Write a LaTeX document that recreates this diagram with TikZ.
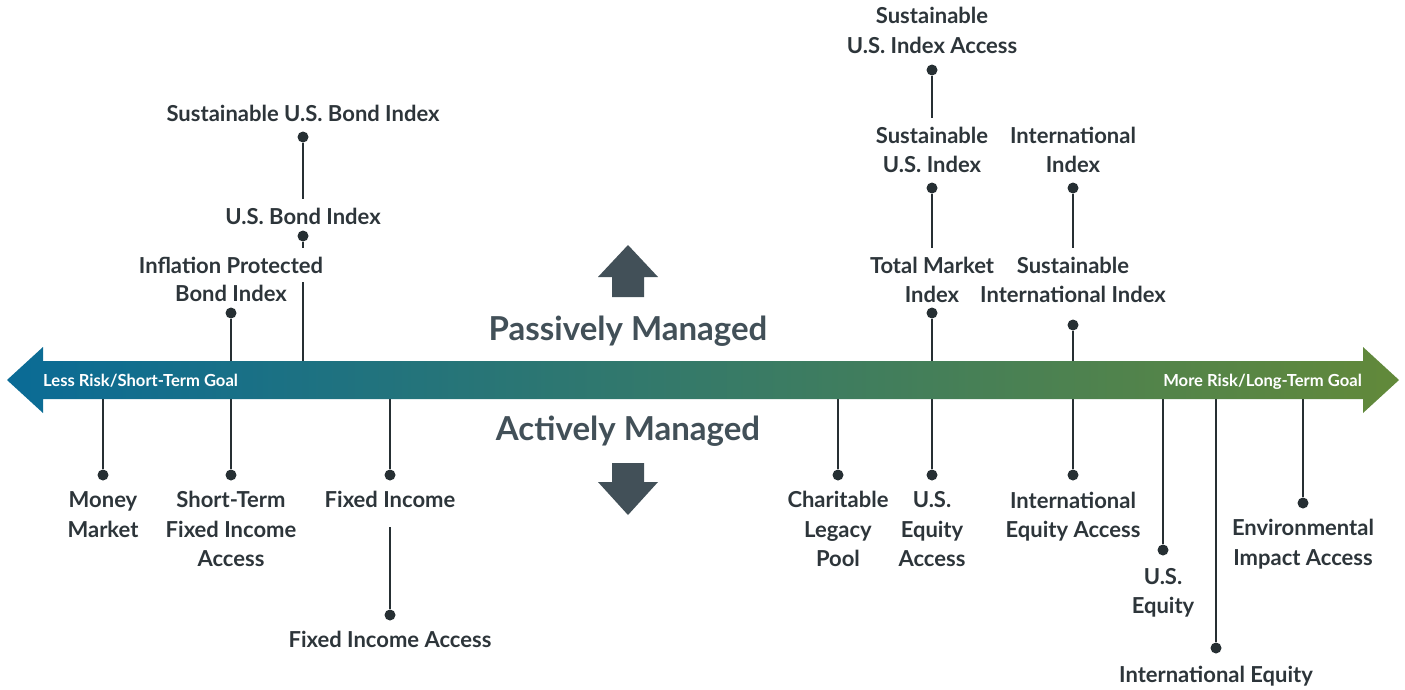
\documentclass[tikz,border=0pt]{standalone}
\usepackage{fontspec}
\setmainfont{Lato}
\definecolor{stemgray}{RGB}{38,47,51}
\definecolor{textgray}{RGB}{45,53,58}
\definecolor{slategray}{RGB}{66,80,88}
\definecolor{riskblue}{RGB}{10,107,150}
\definecolor{riskteal}{RGB}{58,118,110}
\definecolor{riskgreen}{RGB}{98,137,58}
\tikzset{
	fund/.style={font=\bfseries\fontsize{22}{29.5}\selectfont,text=textgray,align=center,inner sep=0pt,outer ysep=9pt},
	pin/.style={circle,fill=stemgray,inner sep=0pt,minimum size=11pt},
	stem/.style={line width=2.8pt,draw=stemgray},
	bartext/.style={font=\bfseries\fontsize{16.6}{19}\selectfont,text=white,inner sep=0pt},
	heading/.style={font=\bfseries\fontsize{33}{38}\selectfont,text=slategray,inner sep=0pt}
}
\begin{document}
\begin{tikzpicture}[x=1pt,y=-1pt]
	\useasboundingbox (0,0) rectangle (1405,689);
	\coordinate (bartop) at (0,361);
	\coordinate (barbot) at (0,399);
	% passively managed (above the bar)
	\node[fund,anchor=base] (sbond) at (303,121.5) {Sustainable U.S. Bond Index};
	\node[fund,anchor=base] (usbond) at (303,224) {U.S. Bond Index};
	\node[fund,anchor=base] (infl) at (231,273.3) {Inflation Protected};
	\node[fund,anchor=base] (inflb) at (231,301.7) {Bond Index};
	\node[fund] (susacc) at (932,30.5) {Sustainable\\U.S. Index Access};
	\node[fund] (susidx) at (932,150) {Sustainable\\U.S. Index};
	\node[fund] (intidx) at (1073,150) {International\\Index};
	\node[fund] (totmkt) at (932,280) {Total Market\\Index};
	\node[fund] (susint) at (1073,280) {Sustainable\\International Index};
	\node[pin] (sbondpin) at (303,137) {};
	\node[pin] (usbondpin) at (303,236) {};
	\node[pin] (inflpin) at (231,313) {};
	\node[pin] (susaccpin) at (932,70) {};
	\node[pin] (susidxpin) at (932,188) {};
	\node[pin] (intidxpin) at (1073,188) {};
	\node[pin] (totmktpin) at (932,313) {};
	\node[pin] (susintpin) at (1073,325) {};
	\draw[stem] (sbondpin) -- (sbondpin |- usbond.north);
	\draw[stem] (usbondpin) -- (usbondpin |- infl.north);
	\draw[stem] (usbondpin |- infl.south) -- (usbondpin |- bartop);
	\draw[stem] (inflpin) -- (inflpin |- bartop);
	\draw[stem] (susaccpin) -- (susaccpin |- susidx.north);
	\draw[stem] (susidxpin) -- (susidxpin |- totmkt.north);
	\draw[stem] (intidxpin) -- (intidxpin |- susint.north);
	\draw[stem] (totmktpin) -- (totmktpin |- bartop);
	\draw[stem] (susintpin) -- (susintpin |- bartop);
	% actively managed (below the bar)
	\node[fund] (money) at (103,514.5) {Money\\Market};
	\node[fund] (stfix) at (231,529) {Short-Term\\Fixed Income\\Access};
	\node[fund,anchor=base] (fixinc) at (390,507) {Fixed Income};
	\node[fund,anchor=base] (fixacc) at (390,647.5) {Fixed Income Access};
	\node[fund] (legacy) at (838,529) {Charitable\\Legacy\\Pool};
	\node[fund] (useqacc) at (932,529.5) {U.S.\\Equity\\Access};
	\node[fund] (inteqacc) at (1073,516.5) {International\\Equity Access};
	\node[fund] (useq) at (1163,593) {U.S.\\Equity};
	\node[fund,anchor=base] (inteq) at (1216,682) {International Equity};
	\node[fund] (envimp) at (1303,544) {Environmental\\Impact Access};
	\node[pin] (moneypin) at (103,475) {};
	\node[pin] (stfixpin) at (231,475) {};
	\node[pin] (fixincpin) at (390,475) {};
	\node[pin] (fixaccpin) at (390,615) {};
	\node[pin] (legacypin) at (838,475) {};
	\node[pin] (useqaccpin) at (932,475) {};
	\node[pin] (inteqaccpin) at (1073,475) {};
	\node[pin] (useqpin) at (1163,550) {};
	\node[pin] (inteqpin) at (1216,648) {};
	\node[pin] (envimppin) at (1303,503) {};
	\foreach \p in {moneypin,stfixpin,fixincpin,legacypin,useqaccpin,inteqaccpin,useqpin,inteqpin,envimppin}
		\draw[stem] (\p) -- (\p |- barbot);
	\draw[stem,shorten >=11pt] (fixaccpin) -- (fixaccpin |- fixinc.south);
	% risk bar
	\shade[left color=riskblue,middle color=riskteal,right color=riskgreen]
		(7,380) -- (43,347) -- (43,361) -- (1363,361) -- (1363,347) -- (1399,380)
		-- (1363,413) -- (1363,399) -- (43,399) -- (43,413) -- cycle;
	\node[bartext,anchor=base west] (less) at (43,386) {Less Risk/Short-Term Goal};
	\node[bartext,anchor=base east] (more) at (1362,386) {More Risk/Long-Term Goal};
	% headings and block arrows
	\node[heading,anchor=base] (passive) at (628,340.7) {Passively Managed};
	\node[heading,anchor=base] (active) at (628,440) {Actively Managed};
	\fill[slategray] (598,277) -- (628,245) -- (658,277) -- (644,277) -- (644,297) -- (612,297) -- (612,277) -- cycle;
	\fill[slategray] (612,463) -- (644,463) -- (644,482) -- (658,482) -- (628,515) -- (598,482) -- (612,482) -- cycle;
\end{tikzpicture}
\end{document}
